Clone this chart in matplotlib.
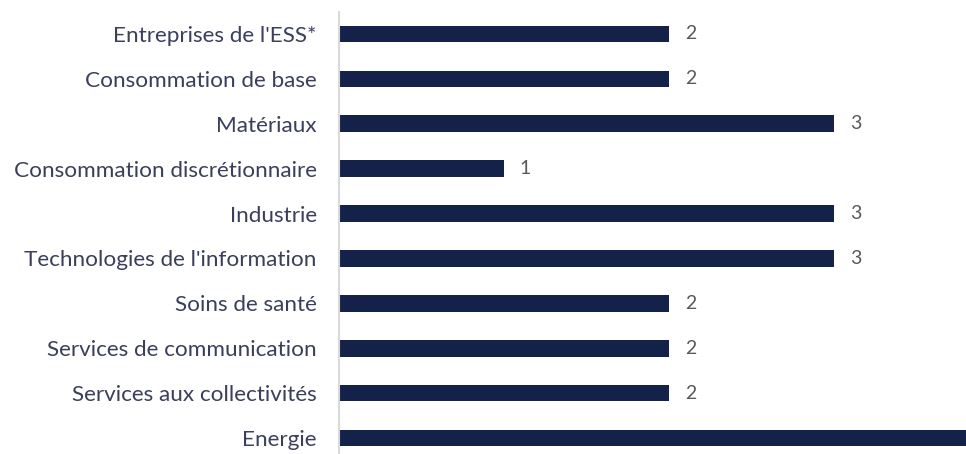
import matplotlib
matplotlib.use("Agg")
import matplotlib.pyplot as plt

categories = ["Entreprises de l'ESS*", "Consommation de base", "Matériaux",
              "Consommation discrétionnaire", "Industrie",
              "Technologies de l'information", "Soins de santé",
              "Services de communication", "Services aux collectivités", "Energie"]
values = [2, 2, 3, 1, 3, 3, 2, 2, 2, 4]

plt.rcParams['font.family'] = ['Lato', 'DejaVu Sans']

fig = plt.figure(figsize=(9.66, 4.54), dpi=100)
ax = fig.add_axes([339 / 966, 0, 1 - 339 / 966, 1])

xmax = (966 - 339) / 165
pos = list(range(len(categories)))
ax.barh(pos, values, height=0.37, color='#14224a')
for p, v in zip(pos, values):
    # the chart is cropped on the right: the last label falls outside
    if v + 0.3 < xmax:
        ax.text(v + 0.095, p, str(v), va='center', ha='left', fontsize=14, color='#595959')

ax.set_xlim(0, xmax)
ax.set_ylim(9.356, -0.757)
ax.set_yticks(pos)
ax.set_yticklabels(categories, fontsize=16.2, color='#3a3f5c')
ax.tick_params(axis='y', length=0, pad=16)
ax.set_xticks([])
for s in ['top', 'right', 'bottom']:
    ax.spines[s].set_visible(False)
ax.spines['left'].set_color('#d9d9d9')
ax.spines['left'].set_linewidth(1.5)
ax.spines['left'].set_bounds(-0.49, 9.356)

fig.savefig('out.png', dpi=100)
